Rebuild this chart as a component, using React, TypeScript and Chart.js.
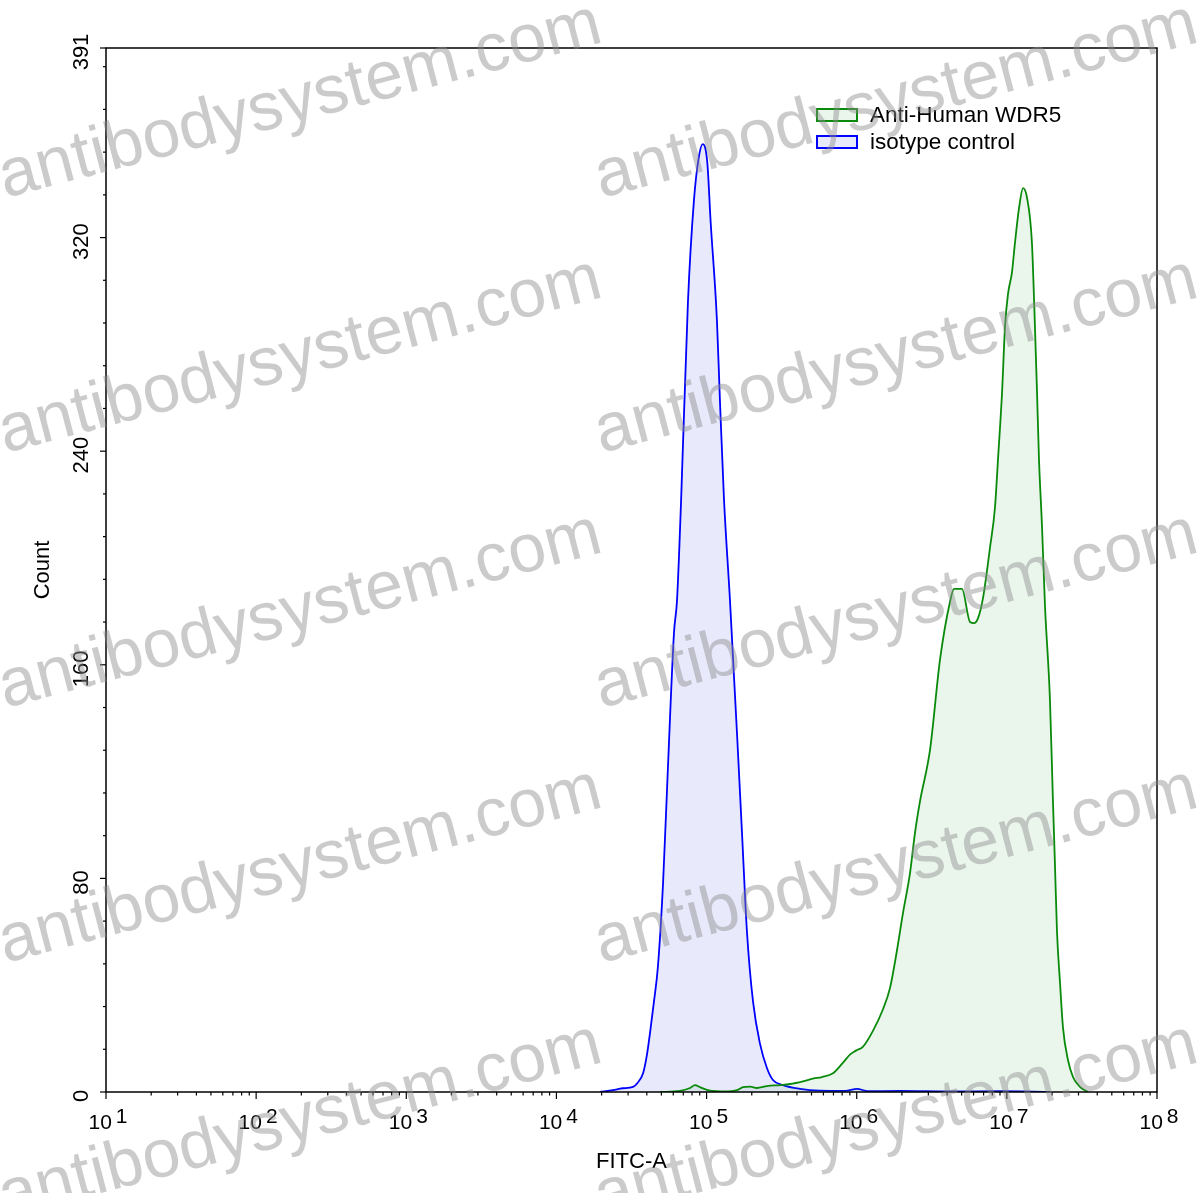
import React, { useEffect, useRef } from "react";
import { Chart, registerables } from "chart.js";

Chart.register(...registerables);

const FONT = '"Liberation Sans", Arial, Helvetica, sans-serif';

// Isotype control (blue): log10(FITC-A) positions and counts
const isoLogX = [4.29, 4.377, 4.44, 4.51, 4.54, 4.577, 4.603, 4.623, 4.65, 4.676, 4.71, 4.743, 4.783, 4.803, 4.83, 4.876, 4.916, 4.948, 4.974, 5.005, 5.027, 5.069, 5.089, 5.116, 5.156, 5.203, 5.236, 5.269, 5.309, 5.356, 5.402, 5.442, 5.509, 5.622, 5.755, 5.922, 6.002, 6.075, 6.288, 6.621, 6.954, 7.287];
const isoCount = [0, 0.7, 1.4, 1.9, 3.4, 7, 14, 22, 34, 47, 78, 122, 172, 184, 221, 296, 334, 350, 355, 348, 326, 289, 259, 222, 184, 134, 97, 60, 34, 18, 9, 4.5, 2.6, 1.2, 0.5, 0.4, 1.2, 0.3, 0.4, 0.2, 0.3, 0];

// Anti-Human WDR5 (green)
const wdrLogX = [4.69, 4.823, 4.89, 4.923, 4.956, 5.023, 5.123, 5.203, 5.243, 5.29, 5.336, 5.402, 5.489, 5.556, 5.642, 5.709, 5.769, 5.842, 5.909, 5.955, 5.995, 6.042, 6.109, 6.175, 6.222, 6.268, 6.308, 6.355, 6.388, 6.422, 6.488, 6.555, 6.621, 6.648, 6.701, 6.755, 6.781, 6.808, 6.841, 6.888, 6.921, 6.941, 6.968, 6.988, 7.008, 7.034, 7.054, 7.081, 7.108, 7.134, 7.167, 7.184, 7.201, 7.214, 7.234, 7.254, 7.287, 7.307, 7.321, 7.334, 7.354, 7.374, 7.407, 7.441, 7.487, 7.54];
const wdrCount = [0, 0.4, 1.5, 2.6, 1.8, 0.5, 0.2, 0.7, 1.8, 2, 1.5, 2.2, 2.6, 3, 4, 5, 5.6, 7, 11, 14, 15.5, 17, 23, 31, 39, 53, 67, 82, 97, 109, 128, 162, 183.5, 188.4, 188.4, 176, 175.6, 177.5, 185, 204, 219, 237, 262, 287, 299, 307, 318, 331, 338.5, 335, 318, 292, 262, 237, 212, 182, 147, 109, 84, 60, 41, 24, 12, 5.6, 1.9, 0];

const xMajorExponents = [1, 2, 3, 4, 5, 6, 7, 8];
const xMinorMultipliers = [2, 3, 4, 5, 6, 7, 8, 9];
const yMajorTicks = [0, 80, 160, 240, 320, 391];
const yMinorTicks = [16, 32, 48, 64, 96, 112, 128, 144, 176, 192, 208, 224, 256, 272, 288, 304, 336, 352, 368, 384];

const seriesLabels = ["Anti-Human WDR5", "isotype control"];
const xTitle = "FITC-A";
const yTitle = "Count";
const watermark = "antibodysystem.com";

const overlayPlugin = {
  id: "overlay",
  afterDraw(chart: any) {
    const ctx = chart.ctx as CanvasRenderingContext2D;
    const { left, right, top, bottom } = chart.chartArea;
    const xs = chart.scales.x;
    const ys = chart.scales.y;
    ctx.save();
    ctx.strokeStyle = "#000";
    ctx.fillStyle = "#000";
    ctx.lineWidth = 1.5;
    ctx.strokeRect(left, top, right - left, bottom - top);

    // x ticks
    ctx.lineWidth = 1.2;
    for (let i = 0; i < xMajorExponents.length; i++) {
      const e = xMajorExponents[i];
      const px = xs.getPixelForValue(Math.pow(10, e));
      ctx.beginPath();
      ctx.moveTo(px, bottom);
      ctx.lineTo(px, bottom + 7);
      ctx.stroke();
      if (i < xMajorExponents.length - 1) {
        for (const m of xMinorMultipliers) {
          const mx = xs.getPixelForValue(m * Math.pow(10, e));
          ctx.beginPath();
          ctx.moveTo(mx, bottom);
          ctx.lineTo(mx, bottom + 3.5);
          ctx.stroke();
        }
      }
      ctx.font = `21px ${FONT}`;
      const wBase = ctx.measureText("10").width;
      const wExp = ctx.measureText(String(e)).width;
      const total = wBase + 4 + wExp;
      const start = px + 2 - total / 2;
      ctx.textAlign = "left";
      ctx.textBaseline = "alphabetic";
      ctx.fillText("10", start, bottom + 37);
      ctx.fillText(String(e), start + wBase + 4, bottom + 31);
    }

    // y ticks
    for (const v of yMajorTicks) {
      const py = ys.getPixelForValue(v);
      ctx.beginPath();
      ctx.moveTo(left - 6, py);
      ctx.lineTo(left, py);
      ctx.stroke();
      ctx.save();
      ctx.translate(88, py + 4);
      ctx.rotate(-Math.PI / 2);
      ctx.font = `22px ${FONT}`;
      ctx.textAlign = "center";
      ctx.textBaseline = "alphabetic";
      ctx.fillText(String(v), 0, 0);
      ctx.restore();
    }
    for (const v of yMinorTicks) {
      const py = ys.getPixelForValue(v);
      ctx.beginPath();
      ctx.moveTo(left - 3, py);
      ctx.lineTo(left, py);
      ctx.stroke();
    }

    // axis titles
    ctx.font = `22px ${FONT}`;
    ctx.textAlign = "center";
    ctx.textBaseline = "alphabetic";
    ctx.fillText(xTitle, (left + right) / 2, bottom + 76);
    ctx.save();
    ctx.translate(49, (top + bottom) / 2);
    ctx.rotate(-Math.PI / 2);
    ctx.fillText(yTitle, 0, 0);
    ctx.restore();

    // legend
    const ds = chart.data.datasets;
    for (let i = 0; i < ds.length; i++) {
      const bx = right - 340;
      const by = top + 61 + i * 27;
      ctx.fillStyle = ds[i].backgroundColor;
      ctx.fillRect(bx, by, 40, 12);
      ctx.strokeStyle = ds[i].borderColor;
      ctx.lineWidth = 2;
      ctx.strokeRect(bx, by, 40, 12);
      ctx.fillStyle = "#000";
      ctx.font = `22.5px ${FONT}`;
      ctx.textAlign = "left";
      ctx.textBaseline = "middle";
      ctx.fillText(ds[i].label, bx + 53, by + 7);
    }

    // watermark
    ctx.fillStyle = "rgba(140,140,140,0.45)";
    ctx.font = `68px ${FONT}`;
    ctx.textAlign = "left";
    ctx.textBaseline = "alphabetic";
    const cols = [5, 601];
    for (const cx of cols) {
      for (let r = 0; r < 5; r++) {
        ctx.save();
        ctx.translate(cx, 198 + r * 255);
        ctx.rotate((-14.6 * Math.PI) / 180);
        ctx.fillText(watermark, 0, 0);
        ctx.restore();
      }
    }
    ctx.restore();
  },
};

export default function App() {
  const ref = useRef<HTMLCanvasElement | null>(null);
  useEffect(() => {
    if (!ref.current) return;
    const chart = new Chart(ref.current, {
      type: "line",
      data: {
        datasets: [
          {
            label: seriesLabels[0],
            data: wdrLogX.map((l, i) => ({ x: Math.pow(10, l), y: wdrCount[i] })),
            borderColor: "#0a8a0a",
            backgroundColor: "rgba(20,140,40,0.09)",
            borderWidth: 1.8,
            fill: "origin",
            pointRadius: 0,
            cubicInterpolationMode: "monotone",
          },
          {
            label: seriesLabels[1],
            data: isoLogX.map((l, i) => ({ x: Math.pow(10, l), y: isoCount[i] })),
            borderColor: "#0000ff",
            backgroundColor: "rgba(40,40,230,0.1)",
            borderWidth: 1.8,
            fill: "origin",
            pointRadius: 0,
            cubicInterpolationMode: "monotone",
          },
        ],
      },
      options: {
        animation: false,
        responsive: false,
        devicePixelRatio: 1,
        layout: { padding: { left: 106, top: 48, right: 40, bottom: 101 } },
        plugins: { legend: { display: false }, tooltip: { enabled: false } },
        scales: {
          x: {
            type: "logarithmic",
            min: 10,
            max: 1e8,
            ticks: { display: false },
            grid: { display: false },
            border: { display: false },
            afterFit: (s: any) => {
              s.height = 0;
            },
          },
          y: {
            type: "linear",
            min: 0,
            max: 391,
            ticks: { display: false },
            grid: { display: false },
            border: { display: false },
            afterFit: (s: any) => {
              s.width = 0;
            },
          },
        },
      },
      plugins: [overlayPlugin],
    });
    return () => chart.destroy();
  }, []);
  return (
    <div style={{ position: "absolute", left: 0, top: 0, width: 1197, height: 1193, background: "#fff" }}>
      <canvas ref={ref} width={1197} height={1193} />
    </div>
  );
}
